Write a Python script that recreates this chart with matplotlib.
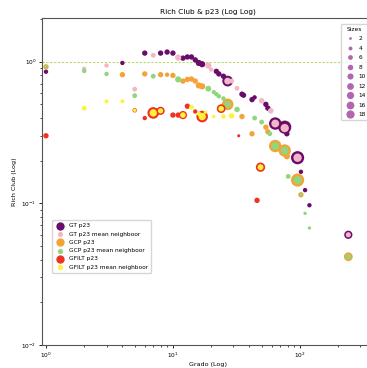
import numpy as np
import matplotlib
matplotlib.use('Agg')
import matplotlib.pyplot as plt
from matplotlib.lines import Line2D

# GT p23
gt_x = [1, 4, 6, 8, 9, 10, 12, 13, 14, 15, 16, 17, 22, 23, 25, 27, 35, 36, 42, 44, 54, 56, 64, 76, 79, 96, 102, 110, 119, 241]
gt_y = [0.85, 0.98, 1.15, 1.15, 1.17, 1.15, 1.06, 1.08, 1.08, 1.03, 0.98, 0.96, 0.855, 0.82, 0.79, 0.73, 0.59, 0.58, 0.54, 0.56, 0.50, 0.47, 0.366, 0.345, 0.31, 0.21, 0.167, 0.124, 0.097, 0.06]
gt_v = [2, 2, 3, 3, 3, 3, 3, 3, 3, 3, 4, 4, 3, 3, 3, 12, 3, 3, 3, 2, 3, 3, 16, 18, 3, 18, 2, 2, 2, 7]

# GT p23 mean neighbour
gtm_x = [2, 3, 5, 7, 11, 19, 20, 27, 29, 32, 50, 59, 64, 76, 96, 241]
gtm_y = [0.89, 0.94, 0.64, 1.11, 1.07, 0.94, 0.88, 0.73, 0.73, 0.65, 0.53, 0.45, 0.366, 0.34, 0.21, 0.06]
gtm_v = [5, 5, 6, 6, 10, 10, 5, 12, 6, 6, 8, 8, 16, 18, 18, 7]

# GCP p23
gcp_x = [1, 4, 6, 8, 9, 10, 12, 13, 14, 15, 16, 17, 27, 35, 42, 54, 56, 64, 76, 79, 96, 102, 241]
gcp_y = [0.92, 0.81, 0.82, 0.81, 0.81, 0.80, 0.73, 0.75, 0.755, 0.73, 0.68, 0.67, 0.50, 0.41, 0.31, 0.345, 0.32, 0.254, 0.236, 0.215, 0.146, 0.115, 0.042]
gcp_v = [3, 3, 3, 3, 2, 3, 3, 3, 3, 3, 4, 4, 14, 3, 3, 3, 3, 16, 16, 4, 18, 3, 8]

# GCP p23 mean neighbour
gcpm_x = [1, 2, 3, 5, 7, 11, 19, 21, 22, 23, 25, 27, 32, 44, 50, 58, 64, 76, 81, 96, 102, 110, 119, 241]
gcpm_y = [0.92, 0.86, 0.82, 0.576, 0.79, 0.75, 0.645, 0.61, 0.59, 0.57, 0.55, 0.50, 0.46, 0.40, 0.375, 0.31, 0.254, 0.236, 0.155, 0.146, 0.115, 0.085, 0.067, 0.042]
gcpm_v = [3, 5, 5, 6, 6, 10, 9, 5, 5, 5, 5, 12, 8, 6, 6, 6, 16, 16, 6, 18, 3, 3, 3, 8]

# GFILT p23
gf_x = [1, 5, 6, 7, 8, 10, 11, 12, 13, 15, 17, 24, 33, 46, 49]
gf_y = [0.30, 0.454, 0.40, 0.435, 0.45, 0.42, 0.42, 0.42, 0.485, 0.445, 0.41, 0.466, 0.30, 0.105, 0.18]
gf_v = [3, 2, 2, 14, 7, 3, 3, 7, 3, 2, 14, 8, 1, 3, 9]

# GFILT p23 mean neighbour
gfm_x = [2, 3, 4, 5, 7, 8, 12, 14, 16, 17, 18, 21, 24, 25, 29, 49]
gfm_y = [0.47, 0.525, 0.526, 0.454, 0.435, 0.45, 0.42, 0.477, 0.43, 0.41, 0.44, 0.41, 0.466, 0.41, 0.415, 0.18]
gfm_v = [6, 4, 4, 3, 14, 7, 8, 6, 5, 14, 3, 3, 8, 5, 8, 9]

size_levels = [2, 4, 6, 8, 10, 12, 14, 16, 18]

fig = plt.figure(figsize=(3.67, 3.68), dpi=100)
ax = fig.add_axes([0.1144, 0.0625, 0.907, 0.889])

k_big, k_small = 5.0, 2.0
h1 = ax.scatter(gt_x, gt_y, s=np.array(gt_v) * k_big, color='#6a0d6a', linewidths=0, zorder=3)
h2 = ax.scatter(gtm_x, gtm_y, s=np.array(gtm_v) * k_small, color='#f2b6c6', linewidths=0, zorder=4)
h3 = ax.scatter(gcp_x, gcp_y, s=np.array(gcp_v) * k_big, color='#f4a338', linewidths=0, zorder=5)
h4 = ax.scatter(gcpm_x, gcpm_y, s=np.array(gcpm_v) * k_small, color='#8fd67c', linewidths=0, zorder=6)
h5 = ax.scatter(gf_x, gf_y, s=np.array(gf_v) * k_big, color='#ee3322', linewidths=0, zorder=7)
h6 = ax.scatter(gfm_x, gfm_y, s=np.array(gfm_v) * k_small, color='#fff23a', linewidths=0, zorder=8)

ax.axhline(1, ls='--', color='yellowgreen', alpha=0.7, lw=0.8, dashes=(2, 1.5), zorder=1)

ax.set_xscale('log')
ax.set_yscale('log')
ax.set_xlim(0.93, 390)
ax.set_ylim(0.01, 2.04)

ax.set_title('Rich Club & p23 (Log Log)', fontsize=5.3, pad=3)
ax.set_xlabel('Grado (Log)', fontsize=4.6, labelpad=1.5)
ax.set_ylabel('Rich Club (Log)', fontsize=4.6, labelpad=3)
ax.tick_params(labelsize=4.2, length=2.5, width=0.6, pad=1.5)
ax.tick_params(which='minor', length=1.5, width=0.5)
for sp in ax.spines.values():
    sp.set_color('#555555')
    sp.set_linewidth(0.8)

leg = ax.legend([h1, h2, h3, h4, h5, h6],
                ['GT p23', 'GT p23 mean neighboor', 'GCP p23', 'GCP p23 mean neighboor',
                 'GFILT p23', 'GFILT p23 mean neighboor'],
                loc='upper left', bbox_to_anchor=(0.02, 0.39), fontsize=4.2,
                scatterpoints=1, labelspacing=0.55, handletextpad=0.5, borderpad=0.5)
for h, s in zip(leg.legend_handles, [36, 14, 36, 14, 36, 14]):
    h.set_sizes([s])
ax.add_artist(leg)

size_handles = [Line2D([], [], ls='', marker='o', color='purple', alpha=0.6, mec='none',
                       markersize=1.4 * np.sqrt(v)) for v in size_levels]
ax.legend(size_handles, [str(v) for v in size_levels], title='Sizes', loc='upper right',
          fontsize=4.2, title_fontsize=4.2, labelspacing=0.75, handletextpad=0.5, borderpad=0.5,
          bbox_to_anchor=(0.99, 0.99))

fig.savefig('out.png', dpi=100)
